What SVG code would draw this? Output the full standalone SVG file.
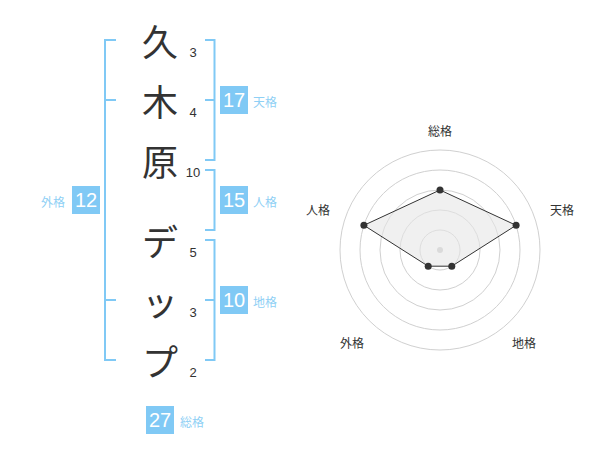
<svg xmlns="http://www.w3.org/2000/svg" width="600" height="470" viewBox="0 0 600 470">
<style>
.ch{font-family:"Noto Sans CJK JP","Noto Sans CJK SC",sans-serif;font-size:36px;fill:#333;text-anchor:middle;dominant-baseline:central}
.st{font-family:"Liberation Sans",Arial,sans-serif;font-size:13px;fill:#333;text-anchor:middle}
.br{fill:none;stroke:#80c9f5;stroke-width:2}
.box{fill:#80c9f5}
.bn{font-family:"Liberation Sans",Arial,sans-serif;font-size:20px;fill:#fff;text-anchor:middle;dominant-baseline:central}
.lb{font-family:"Noto Sans CJK JP","Noto Sans CJK SC",sans-serif;font-size:12px;fill:#8fd0f5;dominant-baseline:central}
.rl{font-family:"Noto Sans CJK JP","Noto Sans CJK SC",sans-serif;font-size:12px;fill:#333;text-anchor:middle;dominant-baseline:central}
.ring{fill:none;stroke:#d0d0d0;stroke-width:1}
.pt{fill:#333}
</style>
<rect width="600" height="470" fill="#fff"/>
<g id="chars">
<text class="ch" x="160" y="40">久</text>
<text class="ch" x="160" y="100">木</text>
<text class="ch" x="160" y="160">原</text>
<text class="ch" x="160" y="240">デ</text>
<text class="ch" x="160" y="300">ッ</text>
<text class="ch" x="160" y="360">プ</text>
<text class="st" x="193" y="57">3</text>
<text class="st" x="193" y="117">4</text>
<text class="st" x="193" y="177">10</text>
<text class="st" x="193" y="257">5</text>
<text class="st" x="193" y="317">3</text>
<text class="st" x="193" y="377">2</text>
</g>
<g id="brackets">
<path class="br" d="M116,40 H105 V360 H116 M105,100 H116 M105,300 H116"/>
<path class="br" d="M205,40 H214.5 V160 H205 M205,100 H214.5"/>
<path class="br" d="M205,170 H214.5 V230 H205"/>
<path class="br" d="M205,240 H214.5 V360 H205 M205,300 H214.5"/>
</g>
<g id="tenkaku"><rect class="box" x="220" y="86" width="28" height="28"/><text class="bn" x="234" y="100">17</text><text class="lb" x="253" y="101">天格</text></g>
<g id="jinkaku"><rect class="box" x="220" y="186" width="28" height="28"/><text class="bn" x="234" y="200">15</text><text class="lb" x="253" y="201">人格</text></g>
<g id="chikaku"><rect class="box" x="220" y="286" width="28" height="28"/><text class="bn" x="234" y="300">10</text><text class="lb" x="253" y="301">地格</text></g>
<g id="gaikaku"><rect class="box" x="72" y="186" width="28" height="28"/><text class="bn" x="86" y="200">12</text><text class="lb" x="41" y="201">外格</text></g>
<g id="soukaku"><rect class="box" x="146" y="406" width="28" height="28"/><text class="bn" x="160" y="420">27</text><text class="lb" x="180" y="421">総格</text></g>
<g id="radar">
<circle class="ring" cx="440" cy="250" r="20"/>
<circle class="ring" cx="440" cy="250" r="40"/>
<circle class="ring" cx="440" cy="250" r="60"/>
<circle class="ring" cx="440" cy="250" r="80"/>
<circle class="ring" cx="440" cy="250" r="100"/>
<circle cx="440" cy="250" r="3" fill="#c8c8c8"/>
<polygon points="440,190 516.1,225.3 451.8,266.2 428.2,266.2 363.9,225.3" fill="#e6e6e6" fill-opacity="0.6" stroke="#333" stroke-width="1"/>
<circle class="pt" cx="440" cy="190" r="3.5"/>
<circle class="pt" cx="516.1" cy="225.3" r="3.5"/>
<circle class="pt" cx="451.8" cy="266.2" r="3.5"/>
<circle class="pt" cx="428.2" cy="266.2" r="3.5"/>
<circle class="pt" cx="363.9" cy="225.3" r="3.5"/>
<text class="rl" x="440" y="130">総格</text>
<text class="rl" x="562" y="209">天格</text>
<text class="rl" x="318" y="209">人格</text>
<text class="rl" x="352" y="342">外格</text>
<text class="rl" x="524" y="342">地格</text>
</g>
</svg>
